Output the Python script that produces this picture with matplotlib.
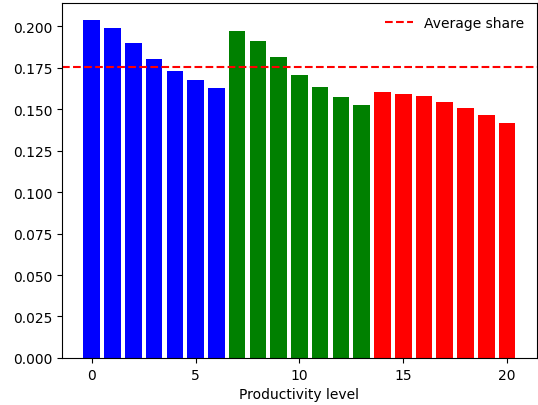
import matplotlib
matplotlib.use("Agg")
import matplotlib.pyplot as plt
import numpy as np

# share per productivity level, three groups of seven
levels = list(range(21))
shares = [0.2039, 0.1991, 0.1900, 0.1803, 0.1731, 0.1676, 0.1628,
          0.1973, 0.1912, 0.1815, 0.1707, 0.1634, 0.1573, 0.1525,
          0.1604, 0.1592, 0.1580, 0.1543, 0.1507, 0.1464, 0.1416]
group_colors = ['blue'] * 7 + ['green'] * 7 + ['red'] * 7
avg_share = 0.1755

fig, ax = plt.subplots(figsize=(5.38, 4.06), dpi=100)
fig.subplots_adjust(left=0.115, right=0.998, top=0.990, bottom=0.116)

ax.bar(levels, shares, color=group_colors)
ax.axhline(y=avg_share, color='r', linestyle='--', label='Average share')
ax.set_xlabel('Productivity level')
ax.legend(loc='upper right', frameon=False)

fig.savefig('out.png', dpi=100)
